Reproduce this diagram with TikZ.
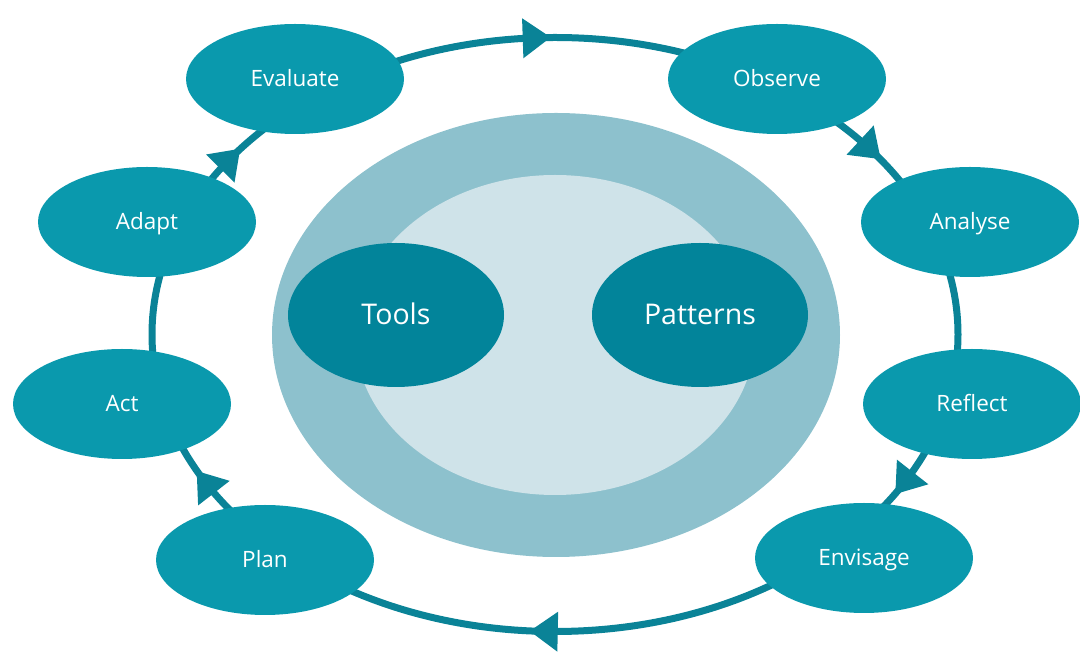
\documentclass[tikz,border=0pt]{standalone}
\usepackage{fontspec}
\setmainfont{Open Sans}
\usetikzlibrary{shapes.geometric}
\definecolor{nodeteal}{HTML}{0A99AD}
\definecolor{darkteal}{HTML}{02849A}
\definecolor{ringteal}{HTML}{0A8397}
\definecolor{outerblue}{HTML}{8DC1CD}
\definecolor{innerblue}{HTML}{CFE3E9}
\tikzset{
  stagenode/.style={ellipse, fill=nodeteal, text=white, minimum width=218pt, minimum height=110pt, inner sep=0pt, text height=16pt, text depth=0pt, font=\fontsize{22.5}{26}\selectfont},
  corenode/.style={ellipse, fill=darkteal, text=white, minimum width=216pt, minimum height=144pt, inner sep=0pt, text height=20pt, text depth=0pt, font=\fontsize{28.5}{33}\selectfont},
  ringline/.style={draw=ringteal, line width=7pt},
  ringhead/.style={fill=ringteal},
}
\begin{document}
\begin{tikzpicture}[x=1pt,y=1pt]
\useasboundingbox (0,0) rectangle (1080,653);
% background ellipses
\fill[outerblue] (556,318) ellipse [x radius=284, y radius=222];
\fill[innerblue] (555,318) ellipse [x radius=200, y radius=160];
% cycle ring
\coordinate (ringc) at (555,318.5);
\draw[ringline] (ringc) ellipse [x radius=403, y radius=297];
\foreach \t in {92.6,38.5,-30,268.4,209.8,143.7}{
  \fill[ringhead, shift={({555+403*cos(\t)},{318.5+297*sin(\t)})}, rotate={atan2(-297*cos(\t),403*sin(\t))}]
    (14,0) -- (-14,20) -- (-14,-20) -- cycle;
}
% stage nodes
\node[stagenode] (evaluate) at (295,574) {Evaluate};
\node[stagenode] (observe) at (777,574) {Observe};
\node[stagenode] (analyse) at (970,431) {Analyse};
\node[stagenode] (reflect) at (972,249) {Reflect};
\node[stagenode] (envisage) at (864,95) {Envisage};
\node[stagenode] (plan) at (265,93) {Plan};
\node[stagenode] (act) at (122,249) {Act};
\node[stagenode] (adapt) at (147,431) {Adapt};
% core nodes
\node[corenode] (tools) at (396,338) {Tools};
\node[corenode] (patterns) at (700,338) {Patterns};
\end{tikzpicture}
\end{document}
